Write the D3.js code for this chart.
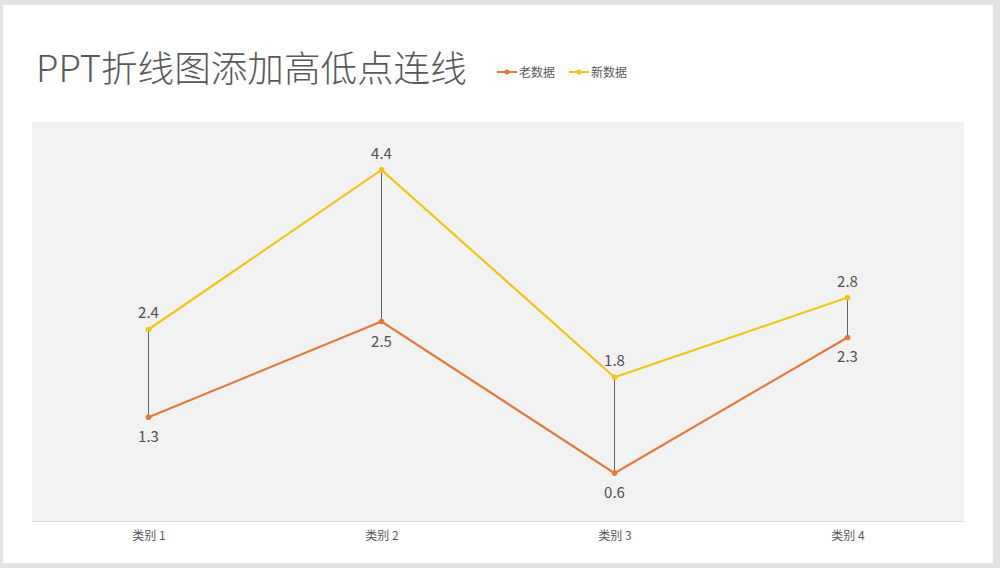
<!DOCTYPE html>
<html><head><meta charset="utf-8">
<script src="https://cdn.jsdelivr.net/npm/d3@7/dist/d3.min.js"></script>
<style>html,body{margin:0;padding:0;background:#e3e3e3;}svg{display:block;}</style>
</head><body>
<script>
const categories = ["类别 1", "类别 2", "类别 3", "类别 4"];
const oldData = [1.3, 2.5, 0.6, 2.3];
const newData = [2.4, 4.4, 1.8, 2.8];
const seriesNames = ["老数据", "新数据"];
const colors = ["#E07B39", "#F2C418"];
const W = 1000, H = 568;
const svg = d3.select("body").append("svg").attr("width", W).attr("height", H);
svg.append("rect").attr("x", 0).attr("y", 0).attr("width", W).attr("height", H).attr("fill", "#e3e3e3");
svg.append("rect").attr("x", 3).attr("y", 5).attr("width", 990).attr("height", 558).attr("fill", "#fff");
const plot = {l: 32, r: 964, t: 122, b: 521};
svg.append("rect").attr("x", plot.l).attr("y", plot.t).attr("width", plot.r - plot.l).attr("height", plot.b - plot.t).attr("fill", "#f2f2f2");
const x = d3.scalePoint().domain(categories).range([plot.l, plot.r]).padding(0.5);
const y = d3.scaleLinear().domain([0, 5]).range([plot.b, plot.t]);
const font = "'Noto Sans CJK SC', 'Noto Sans', sans-serif";
// axis
const ax = svg.append("g").attr("transform", `translate(0,${plot.b})`).call(d3.axisBottom(x).tickSize(0).tickPadding(10));
ax.select(".domain").attr("stroke", "#d9d9d9").attr("d", `M${plot.l},0.5H${plot.r}`);
ax.selectAll("text").attr("font-family", font).attr("font-size", 12).attr("fill", "#595959");
// high-low lines
svg.append("g").selectAll("line").data(categories).join("line")
  .attr("x1", d => x(d)).attr("x2", d => x(d))
  .attr("y1", (d, i) => y(oldData[i])).attr("y2", (d, i) => y(newData[i]))
  .attr("stroke", "#404040").attr("stroke-width", 0.8);
const line = d3.line().x((d, i) => x(categories[i])).y(d => y(d));
[oldData, newData].forEach((data, s) => {
  svg.append("path").datum(data).attr("d", line).attr("fill", "none").attr("stroke", colors[s]).attr("stroke-width", 2.2);
  svg.append("g").selectAll("circle").data(data).join("circle")
    .attr("cx", (d, i) => x(categories[i])).attr("cy", d => y(d)).attr("r", 2.8).attr("fill", colors[s]);
  svg.append("g").selectAll("text").data(data).join("text")
    .attr("x", (d, i) => x(categories[i])).attr("y", d => s === 0 ? y(d) + 25 : y(d) - 11)
    .attr("text-anchor", "middle").attr("font-family", font).attr("font-size", 15).attr("fill", "#505050")
    .text(d => d.toFixed(1));
});
// title
svg.append("text").attr("x", 36).attr("y", 82).attr("font-family", font).attr("font-weight", 300)
  .attr("font-size", 36.6).attr("fill", "#595959").text("PPT折线图添加高低点连线");
// legend
const lg = svg.append("g").attr("transform", "translate(497,72)");
seriesNames.forEach((n, i) => {
  const g = lg.append("g").attr("transform", `translate(${i * 72},0)`);
  g.append("line").attr("x1", 0).attr("x2", 20).attr("y1", 0).attr("y2", 0).attr("stroke", colors[i]).attr("stroke-width", 2);
  g.append("circle").attr("cx", 10).attr("cy", 0).attr("r", 2.5).attr("fill", colors[i]);
  g.append("text").attr("x", 22).attr("y", 4.5).attr("font-family", font).attr("font-size", 12).attr("fill", "#595959").text(n);
});
</script>
</body></html>
